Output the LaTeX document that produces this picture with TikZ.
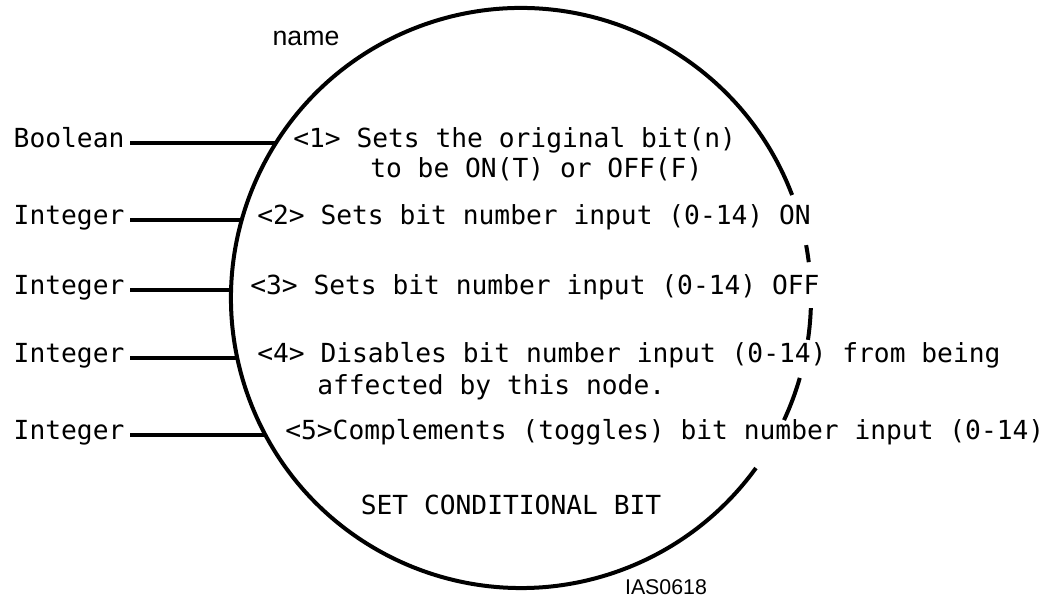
\documentclass[tikz,border=0pt]{standalone}
\usepackage{fontspec}
\usepackage{tikz}
\newfontfamily\gothic{DejaVu Sans Mono}
\newfontfamily\plainsans{Liberation Sans}
\newcommand{\bodyfont}{\gothic\fontsize{19.7}{22.5}\selectfont}
\tikzset{
  ring/.style={line width=3pt},
  wire/.style={line width=2.4pt},
  desc/.style={font=\bodyfont, text height=.73em, text depth=0pt, inner sep=0pt, anchor=west},
  inlabel/.style={font=\bodyfont, text height=.73em, text depth=0pt, inner xsep=4pt, inner ysep=0pt, anchor=east}
}
\begin{document}
\begin{tikzpicture}[x=0.75pt, y=0.75pt]
        \useasboundingbox (0,0) rectangle (1063,598);
        % Centro del bloque circular
        \coordinate (ctr) at (521,300);

        % Circulo con huecos donde pasa el texto
        \draw [ring] ([shift={(20.8:290)}]ctr) arc [start angle=20.8, end angle=324.1, radius=290];
        \foreach \a/\b in {7.1/10.5, -8.3/-2.0, -24.9/-16.0}
            \draw [ring] ([shift={(\a:290)}]ctr) arc [start angle=\a, end angle=\b, radius=290];

        % Puntos de entrada sobre el circulo
        \coordinate (p1) at ([shift={(147.69:290)}]ctr);
        \coordinate (p2) at ([shift={(164.40:290)}]ctr);
        \coordinate (p3) at ([shift={(178.42:290)}]ctr);
        \coordinate (p4) at ([shift={(191.94:290)}]ctr);
        \coordinate (p5) at ([shift={(208.19:290)}]ctr);

        \node (blkname) [font=\plainsans\fontsize{20}{22}\selectfont] at (306,560) {name};

        % Entradas
        \node (in1) [inlabel] at (130,455) {Boolean};
        \node (in2) [inlabel] at (130,378) {Integer};
        \node (in3) [inlabel] at (130,308) {Integer};
        \node (in4) [inlabel] at (130,240) {Integer};
        \node (in5) [inlabel] at (130,163) {Integer};
        \foreach \i in {1,...,5}
            \draw [wire] (in\i.east) -- (in\i.east -| p\i);

        % Descripcion de cada entrada
        \node (d1)  [desc] at (293,455) {<1> Sets the original bit(n)};
        \node (d1b) [desc] at (370,425) {to be ON(T) or OFF(F)};
        \node (d2)  [desc] at (257,378) {<2> Sets bit number input (0-14) ON};
        \node (d3)  [desc] at (250,308) {<3> Sets bit number input (0-14) OFF};
        \node (d4)  [desc] at (257,240) {<4> Disables bit number input (0-14) from being};
        \node (d4b) [desc] at (317,208) {affected by this node.};
        \node (d5)  [desc] at (285,163) {<5>Complements (toggles) bit number input (0-14)};

        \node (title) [font=\bodyfont, text height=.73em, text depth=0pt, inner sep=0pt] at (511,88) {SET CONDITIONAL BIT};
        \node (figid) [font=\plainsans\fontsize{16}{18}\selectfont] at (666,11) {IAS0618};
    \end{tikzpicture}
\end{document}
